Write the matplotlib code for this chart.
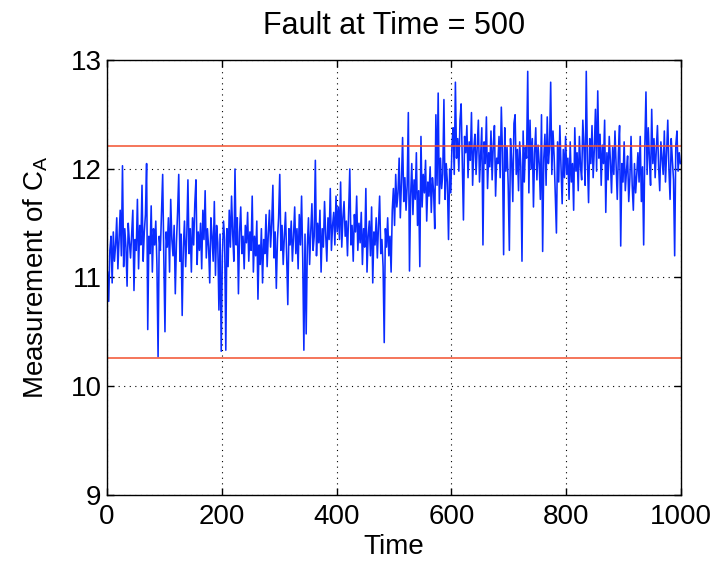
import numpy as np
import matplotlib
matplotlib.use("Agg")
import matplotlib.pyplot as plt

plt.rcParams["font.family"] = ["Liberation Sans", "DejaVu Sans"]
plt.rcParams["mathtext.fontset"] = "custom"
plt.rcParams["mathtext.rm"] = "Liberation Sans"
plt.rcParams["mathtext.it"] = "Liberation Sans:italic"

meas = [
    11.05, 10.78, 11.25, 11.38, 10.95, 11.42, 11.15, 11.30, 11.55, 11.08, 11.35, 11.62, 11.20, 12.03, 11.10, 11.45, 11.28, 10.92, 11.50, 11.33,
    11.18, 11.40, 11.62, 10.88, 11.35, 11.25, 11.72, 11.08, 11.48, 11.30, 11.85, 11.15, 11.42, 11.58, 12.05, 10.52, 11.38, 11.22, 11.66, 11.05,
    11.45, 11.30, 11.52, 11.12, 10.27, 11.38, 11.25, 11.60, 11.95, 11.18, 10.50, 11.42, 11.28, 11.55, 11.05, 11.72, 11.35, 11.20, 11.48, 10.85,
    11.32, 11.60, 11.95, 11.15, 11.40, 10.65, 11.28, 11.52, 11.10, 11.38, 11.90, 11.22, 11.45, 11.05, 11.55, 11.30, 11.68, 11.90, 11.12, 11.42,
    11.25, 11.50, 11.08, 11.62, 11.35, 11.80, 11.18, 11.45, 11.28, 10.95, 11.55, 11.38, 11.15, 11.70, 11.02, 11.48, 11.32, 10.70, 11.40, 10.32,
    11.20, 11.52, 11.35, 10.33, 11.45, 11.10, 11.62, 11.28, 11.75, 11.40, 11.15, 12.00, 11.30, 11.55, 10.85, 11.42, 11.65, 11.22, 11.38, 11.08,
    11.48, 11.32, 11.60, 11.15, 11.42, 11.25, 11.75, 11.05, 11.38, 11.20, 11.52, 10.80, 11.30, 11.12, 11.45, 10.95, 11.35, 11.22, 11.58, 11.10,
    11.40, 11.62, 11.28, 11.50, 11.85, 11.18, 11.42, 10.90, 11.35, 11.55, 11.95, 11.25, 11.48, 11.12, 11.38, 11.60, 11.20, 10.75, 11.45, 11.30,
    11.52, 11.15, 11.38, 11.65, 11.22, 11.45, 11.08, 11.58, 11.30, 11.75, 11.18, 10.33, 11.40, 10.48, 11.28, 11.55, 11.12, 11.42, 11.68, 11.25,
    11.38, 12.08, 11.20, 11.50, 11.32, 11.62, 11.05, 11.45, 11.28, 11.70, 11.40, 11.15, 11.55, 11.35, 11.82, 11.25, 11.48, 11.60, 11.30, 11.75,
    11.42, 11.65, 11.35, 11.88, 11.28, 11.55, 11.70, 11.38, 11.52, 11.20, 11.62, 12.00, 11.30, 11.48, 11.15, 11.58, 11.42, 11.75, 11.25, 11.50,
    11.32, 11.60, 11.12, 11.45, 11.28, 11.82, 11.05, 11.38, 11.52, 11.20, 11.65, 10.95, 11.42, 11.30, 11.55, 11.18, 11.48, 11.75, 11.22, 11.35,
    11.10, 10.40, 11.45, 11.28, 11.55, 11.20, 11.38, 11.05, 11.62, 11.82, 11.48, 11.95, 11.65, 11.78, 12.10, 11.55, 11.88, 12.29, 11.70, 11.92,
    11.62, 11.85, 12.52, 11.06, 11.75, 12.05, 11.58, 11.90, 11.72, 12.15, 11.48, 11.80, 11.10, 12.30, 11.65, 11.95, 11.78, 12.08, 11.52, 11.88,
    11.75, 12.02, 11.60, 11.92, 11.80, 11.45, 12.50, 11.85, 12.70, 11.68, 12.10, 11.82, 11.95, 12.64, 11.72, 12.05, 11.88, 11.35, 12.00, 11.78,
    12.22, 12.38, 11.95, 12.80, 12.10, 12.28, 11.98, 12.45, 12.60, 12.05, 11.53, 12.30, 12.15, 12.40, 11.92, 12.25, 12.08, 12.52, 11.85, 12.18,
    12.32, 11.95, 12.20, 12.45, 11.88, 12.12, 12.38, 11.30, 12.25, 12.05, 12.48, 11.82, 12.15, 12.02, 12.35, 11.90, 12.22, 12.40, 11.75, 12.10,
    12.05, 12.30, 11.92, 12.57, 12.15, 11.21, 12.38, 11.98, 12.20, 11.85, 11.25, 12.28, 12.08, 11.70, 12.42, 12.50, 11.95, 12.18, 11.80, 12.25,
    12.02, 11.15, 12.35, 11.88, 12.20, 12.10, 12.90, 11.78, 12.45, 12.00, 12.28, 11.65, 12.15, 12.38, 11.90, 12.22, 12.05, 11.72, 12.50, 11.24,
    12.10, 12.32, 11.85, 12.48, 12.05, 12.20, 12.80, 11.95, 12.35, 12.12, 11.75, 11.41, 12.25, 11.88, 12.40, 12.02, 11.68, 12.18, 11.92, 12.30,
    11.95, 12.10, 11.72, 12.25, 11.88, 12.05, 11.62, 12.38, 11.98, 12.15, 11.80, 12.30, 12.02, 11.90, 12.45, 12.20, 11.85, 12.90, 12.08, 11.69,
    12.28, 12.05, 12.40, 11.92, 12.18, 12.55, 11.98, 12.72, 12.10, 12.32, 11.85, 12.22, 12.05, 12.45, 11.60, 12.15, 11.90, 12.30, 12.08, 11.78,
    12.20, 11.95, 12.35, 12.02, 11.72, 12.15, 12.40, 11.29, 12.05, 11.88, 12.25, 11.80, 11.98, 12.12, 11.70, 11.92, 12.30, 11.85, 11.62, 12.05,
    11.78, 11.95, 12.15, 11.88, 12.30, 11.70, 12.02, 11.30, 12.20, 12.71, 11.95, 12.38, 12.10, 11.85, 12.55, 12.05, 12.28, 11.92, 12.18, 12.40,
    12.02, 11.80, 12.25, 12.10, 11.95, 12.35, 11.88, 12.15, 12.45, 12.00, 11.72, 12.28, 12.08, 11.90, 11.20, 12.22, 12.35, 11.98, 12.15, 12.05,
]
time = np.arange(len(meas)) * 2 + 1

ucl = 12.21
lcl = 10.26

fig = plt.figure(figsize=(7.2, 5.68), dpi=100)
ax = fig.add_axes([0.1486, 0.1294, 0.7972, 0.7641])
ax.plot(time, meas, color="#0a2cff", lw=1.15)
ax.axhline(ucl, color="#f2502e", lw=1.1)
ax.axhline(lcl, color="#f2502e", lw=1.1)

ax.set_xlim(0, 1000)
ax.set_ylim(9, 13)
ax.set_xticks([0, 200, 400, 600, 800, 1000])
ax.set_yticks([9, 10, 11, 12, 13])
ax.grid(True, color="black", ls=(0, (1, 4)), lw=0.8)
ax.tick_params(direction="in", top=True, right=True, labelsize=20,
               length=5, width=1, pad=4)
ax.tick_params(axis="x", pad=7)
for s in ax.spines.values():
    s.set_linewidth(1.0)

ax.set_xlabel("Time", fontsize=20, labelpad=3)
ax.set_ylabel(r"Measurement of C$_\mathrm{A}$", fontsize=20, labelpad=15)
ax.set_title("Fault at Time = 500", fontsize=22, pad=19)

fig.savefig("out.png", dpi=100)
